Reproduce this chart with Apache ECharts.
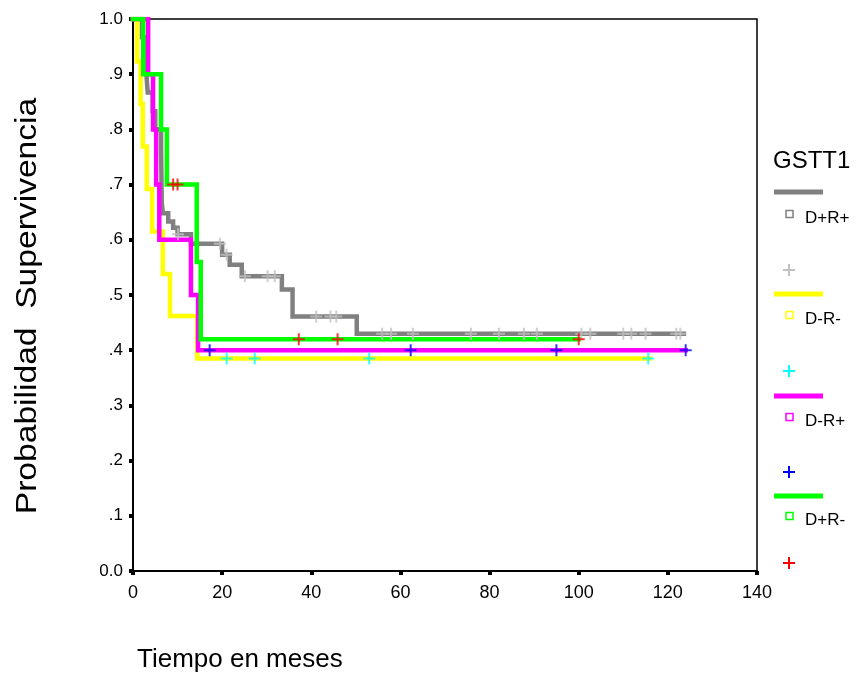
<!DOCTYPE html>
<html>
<head>
<meta charset="utf-8">
<script src="https://cdn.jsdelivr.net/npm/echarts@6/dist/echarts.min.js"></script>
<style>html,body{margin:0;padding:0;background:#fff}#c{width:861px;height:679px}</style>
</head>
<body>
<div id="c"></div>
<script>
// ---- data ----
const groupNames = ['D+R+', 'D-R-', 'D-R+', 'D+R-'];
const lineColors = ['#808080', '#ffff00', '#ff00ff', '#00ff00'];
const censorColors = ['#c0c0c0', '#00ffff', '#0000ff', '#ff0000'];

// Kaplan-Meier steps: [time, survival from that time on]
const grayTimes = [0, 2.0, 2.5, 3.0, 3.3, 4.4, 5.0, 6.3, 6.35, 6.4, 6.45, 6.7, 7.9, 9.0, 10.0, 13.0, 20.0, 21.7, 24.4, 33.4, 35.8, 50.2, 123.6];
const grayValues = [1.0, 0.967, 0.933, 0.90, 0.867, 0.833, 0.80, 0.767, 0.733, 0.70, 0.667, 0.648, 0.633, 0.622, 0.61, 0.593, 0.573, 0.555, 0.534, 0.51, 0.461, 0.43, 0.43];
const grayCensors = [10.1, 19.5, 21.0, 25.1, 30.2, 31.8, 41.1, 44.3, 45.6, 55.9, 57.9, 62.8, 75.8, 82.1, 87.7, 90.6, 100.6, 102.6, 110.0, 111.8, 115.0, 121.9, 122.8];

const yellowTimes = [0, 0.9, 1.7, 2.2, 3.1, 4.3, 6.7, 8.3, 14.4, 116.0];
const yellowValues = [1.0, 0.923, 0.846, 0.769, 0.692, 0.615, 0.538, 0.462, 0.385, 0.385];
const yellowCensors = [21.0, 27.3, 53.0, 115.6];

const magentaTimes = [0, 3.4, 4.5, 5.2, 5.9, 13.0, 14.6, 124.0];
const magentaValues = [1.0, 0.9, 0.8, 0.7, 0.6, 0.5, 0.4, 0.4];
const magentaCensors = [17.2, 62.3, 95.0, 124.0];

const greenTimes = [0, 2.3, 6.3, 7.6, 14.3, 15.2, 100.0];
const greenValues = [1.0, 0.9, 0.8, 0.7, 0.56, 0.42, 0.42];
const greenCensors = [9.0, 10.0, 37.2, 45.9, 100.0];

const xTickLabels = ['0', '20', '40', '60', '80', '100', '120', '140'];
const yTickLabels = ['0.0', '.1', '.2', '.3', '.4', '.5', '.6', '.7', '.8', '.9', '1.0'];

// ---- build ----
const curves = [
  [grayTimes, grayValues, grayCensors],
  [yellowTimes, yellowValues, yellowCensors],
  [magentaTimes, magentaValues, magentaCensors],
  [greenTimes, greenValues, greenCensors]
];
function stepValue(times, values, t) {
  let v = values[0];
  for (let i = 0; i < times.length; i++) { if (times[i] <= t) v = values[i]; }
  return v;
}
const plus = 'path://M5,0H7V5H12V7H7V12H5V7H0V5H5Z';
const series = [];
curves.forEach((c, i) => {
  series.push({
    type: 'line', step: 'end', symbol: 'none', silent: true,
    data: c[0].map((t, k) => [t, c[1][k]]),
    lineStyle: { color: lineColors[i], width: 4.5, cap: 'square', join: 'miter' },
    z: 2 + i
  });
});
curves.forEach((c, i) => {
  series.push({
    type: 'scatter', symbol: plus, symbolSize: 12, silent: true,
    data: c[2].map(t => [t, stepValue(c[0], c[1], t)]),
    itemStyle: { color: censorColors[i] },
    z: 10 + i
  });
});

const F = 'Liberation Sans, Arial, sans-serif';
const legendLineY = [192, 294, 396, 496];
const legendSquareY = [214, 315, 417, 516];
const legendCrossY = [270, 371, 472, 563];
const graphic = [
  { type: 'text', left: 773, top: 149, style: { text: 'GSTT1', font: '24px ' + F, fill: '#000' } }
];
groupNames.forEach((g, i) => {
  graphic.push({ type: 'line', shape: { x1: 774, y1: legendLineY[i], x2: 823, y2: legendLineY[i] }, style: { stroke: lineColors[i], lineWidth: 5 } });
  graphic.push({ type: 'rect', shape: { x: 786, y: legendSquareY[i] - 3.5, width: 7, height: 7 }, style: { fill: 'none', stroke: lineColors[i], lineWidth: 1.5 } });
  graphic.push({ type: 'text', left: 805, top: legendSquareY[i] - 4, style: { text: g, font: '17px ' + F, fill: '#000' } });
  graphic.push({ type: 'line', shape: { x1: 783, y1: legendCrossY[i], x2: 795, y2: legendCrossY[i] }, style: { stroke: censorColors[i], lineWidth: 2 } });
  graphic.push({ type: 'line', shape: { x1: 789, y1: legendCrossY[i] - 6, x2: 789, y2: legendCrossY[i] + 6 }, style: { stroke: censorColors[i], lineWidth: 2 } });
});
graphic.push({ type: 'text', left: 137, top: 647, style: { text: 'Tiempo en meses', font: '26px ' + F, fill: '#000' } });
graphic.push({ type: 'text', x: 28, y: 306, rotation: Math.PI / 2, scaleX: 1.12, style: { text: 'Probabilidad  Supervivencia', font: '30px ' + F, fill: '#000', align: 'center', verticalAlign: 'middle' } });

const chart = echarts.init(document.getElementById('c'), null, { renderer: 'canvas' });
chart.setOption({
  animation: false,
  backgroundColor: '#fff',
  grid: { left: 133, right: 104, top: 19, bottom: 108, show: true, borderColor: '#000', borderWidth: 1.5, backgroundColor: 'transparent' },
  xAxis: {
    type: 'value', min: 0, max: 140, interval: 20,
    axisLine: { lineStyle: { color: '#000', width: 2 } },
    axisTick: { show: true, length: 4, lineStyle: { color: '#000', width: 4 } },
    splitLine: { show: false },
    axisLabel: { color: '#000', fontSize: 18, fontFamily: F, margin: 13, formatter: (v) => xTickLabels[Math.round(v / 20)] }
  },
  yAxis: {
    type: 'value', min: 0, max: 1, interval: 0.1,
    axisLine: { lineStyle: { color: '#000', width: 2 } },
    axisTick: { show: true, length: 4, lineStyle: { color: '#000', width: 4 } },
    splitLine: { show: false },
    axisLabel: { color: '#000', fontSize: 17, fontFamily: F, margin: 10, formatter: (v) => yTickLabels[Math.round(v * 10)] }
  },
  graphic: graphic,
  series: series
});
</script>
</body>
</html>
